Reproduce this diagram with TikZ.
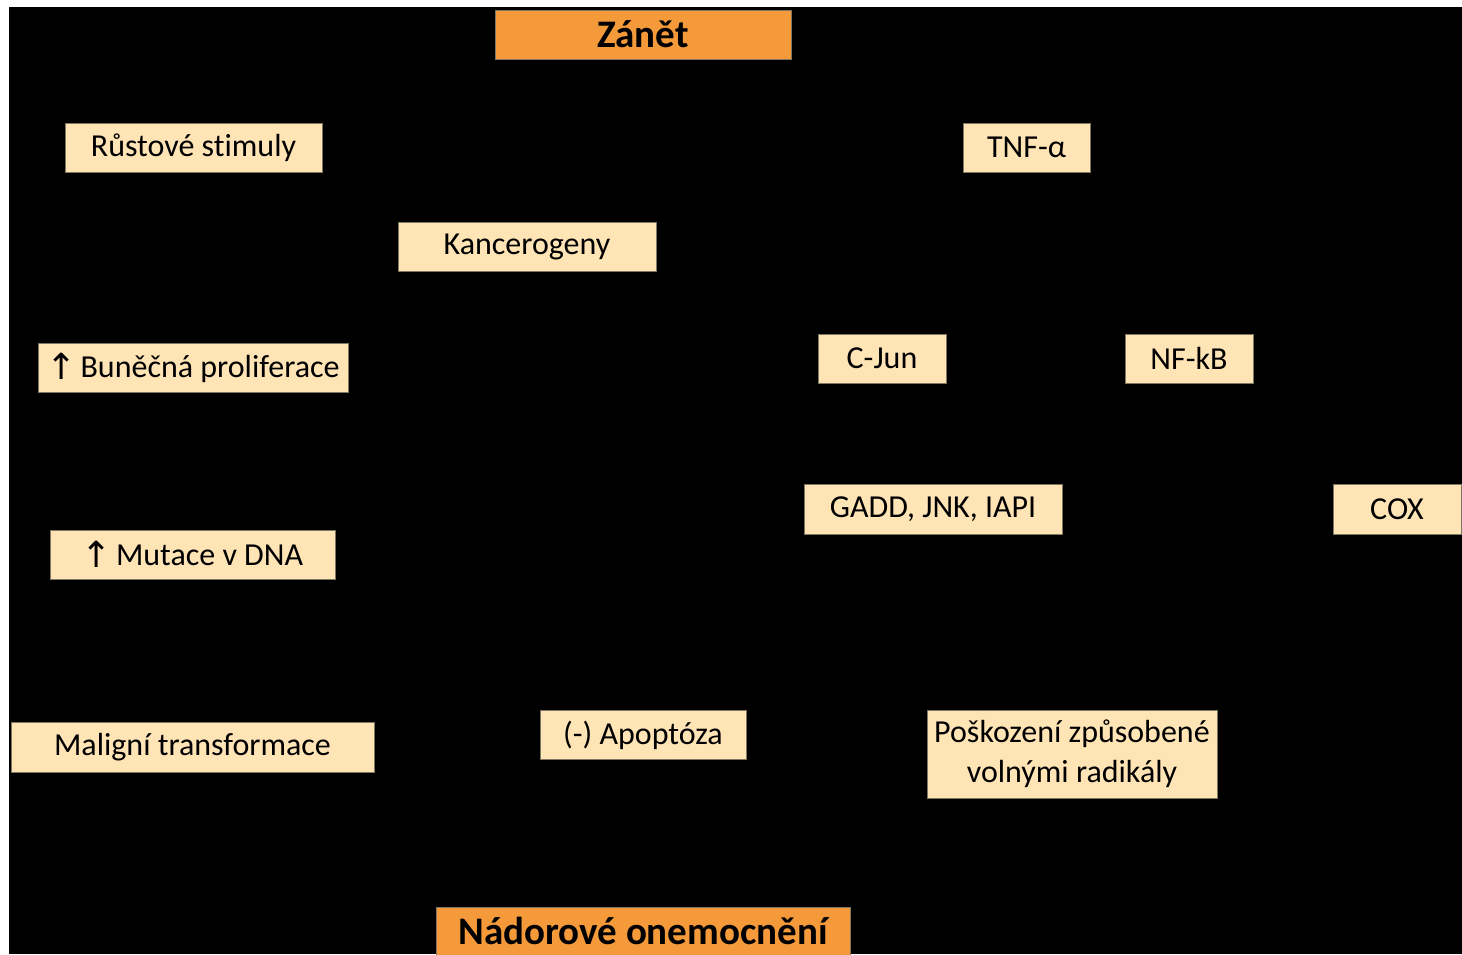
\documentclass[tikz,border=0pt]{standalone}
\usepackage{fontspec}
\setmainfont{Carlito}[Ligatures=NoCommon]
\newfontfamily\arrowfont{DejaVu Sans}
\definecolor{boxbeige}{HTML}{FFE4B6}
\definecolor{boxorange}{HTML}{F49A3A}
\definecolor{boxline}{HTML}{7F7662}
\tikzset{
	factor/.style={draw=boxline, line width=1pt, fill=boxbeige, inner sep=0pt,
		minimum height=49pt, align=center, font=\fontsize{32}{40}\selectfont},
	headbox/.style={factor, fill=boxorange, font=\fontsize{39}{44}\selectfont\bfseries},
}
\begin{document}
\begin{tikzpicture}[x=1pt,y=-1pt]
\def\W{1462}
\def\H{954}
\def\up{{\arrowfont\fontsize{36}{36}\selectfont\raisebox{-2pt}{↑}}\hspace{4pt}}

% page and black ground
\fill[white] (0,0) rectangle (\W,\H);
\fill[black] (9,7) rectangle (\W,\H);
\useasboundingbox (0,0) rectangle (\W,\H);

% top and bottom
\node[headbox, minimum width=296pt] (zanet) at (643,34.5) {Zánět};
\node[headbox, minimum width=414pt, minimum height=48pt] (nador) at (643,931) {Nádorové onemocnění};

% left column
\node[factor, minimum width=257pt] (rust) at (193.5,147.5) {Růstové stimuly};
\node[factor, minimum width=310pt] (prolif) at (193,367.5) {\up Buněčná proliferace};
\node[factor, minimum width=285pt] (mutace) at (192.5,554.5) {\up Mutace v DNA};
\node[factor, minimum width=363pt, minimum height=50pt] (malig) at (192.5,747) {Maligní transformace};

% middle
\node[factor, minimum width=258pt] (kanc) at (527,246.5) {Kancerogeny};
\node[factor, minimum width=206pt] (apopt) at (643,735) {(-) Apoptóza};

% right side
\node[factor, minimum width=127pt] (tnf) at (1026.5,147.5) {TNF-α};
\node[factor, minimum width=128pt] (cjun) at (882,358.5) {C-Jun};
\node[factor, minimum width=128pt] (nfkb) at (1189,358.5) {NF-kB};
\node[factor, minimum width=258pt, minimum height=50pt] (gadd) at (933,509) {GADD, JNK, IAPI};
\node[factor, minimum width=128pt, minimum height=50pt] (cox) at (1397,509) {COX};
\node[factor, minimum width=290pt, minimum height=88pt] (radik) at (1072,754) {Poškození způsobené\\volnými radikály};

\end{tikzpicture}
\end{document}
